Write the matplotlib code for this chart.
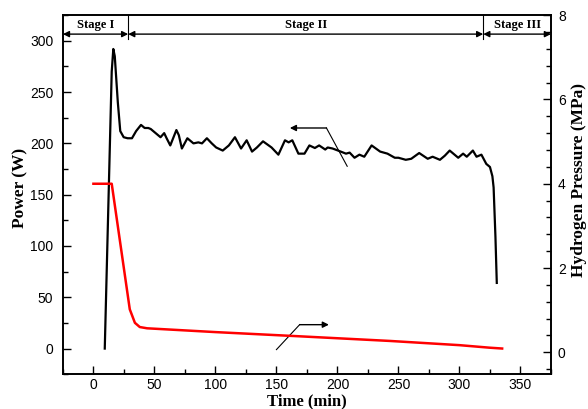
import numpy as np
import matplotlib

matplotlib.use("Agg")
import matplotlib.pyplot as plt
from matplotlib.ticker import MultipleLocator

# ---------------------------------------------------------------- data
power_time = [9.3, 15.0, 16.3, 17.5, 20, 22, 24.8, 28, 31.6, 35, 39, 42, 45,
              47, 51, 55, 58, 60, 63, 68, 70, 72.5, 77, 82, 86, 89, 93, 97,
              100.6, 106, 111, 116, 121, 125.6, 130, 134, 139, 146, 151.6,
              157, 160, 163, 168, 173, 177, 181.5, 185, 190, 192, 196, 200.5,
              207, 210, 214, 218, 222, 228, 235, 241, 247, 250, 256, 260.5,
              267, 274, 278, 284, 288, 292, 299, 303, 306, 311, 314, 318,
              322, 325, 327, 328, 329.5, 330.6]
power_w = [0, 270, 292, 285, 240, 212, 206, 205, 205, 212, 218, 215, 215,
           214, 210, 206, 210, 205, 198, 213, 208, 195, 205, 200, 201, 200,
           205, 200, 196, 193, 198, 206, 195, 203, 192, 196, 202, 196, 189,
           203, 201, 203, 190, 190, 198, 195.5, 198, 194, 196, 195, 193,
           190, 191, 186, 189, 187, 198, 192, 190, 186, 186, 184, 185,
           190.6, 185, 187, 184, 188, 193, 186, 190, 187, 193, 187, 189,
           180, 177, 168, 157, 109, 64]

pressure_time = [0, 15, 29.8, 34, 38, 44, 100, 169, 243, 300, 324.6, 335]
pressure_mpa = [4.0, 4.0, 1.02, 0.70, 0.60, 0.57, 0.48, 0.38, 0.27, 0.17,
                0.11, 0.09]

stage_edges = [-25, 28.5, 319.5, 375]
stage_labels = ["Stage I", "Stage II", "Stage III"]

# ---------------------------------------------------------------- figure
serif = "Liberation Serif"
plt.rcParams["font.family"] = "Liberation Sans"

fig = plt.figure(figsize=(5.88, 4.09), dpi=100)
ax = fig.add_axes([0.107, 0.085, 0.830, 0.878])
ax2 = ax.twinx()

ax.plot(power_time, power_w, color="black", lw=1.6)
ax2.plot(pressure_time, pressure_mpa, color="red", lw=1.8)

ax.set_xlim(-25, 375)
ax.set_ylim(-25, 325)
ax2.set_ylim(-0.52, 8.001)

ax.xaxis.set_minor_locator(MultipleLocator(25))
ax.yaxis.set_minor_locator(MultipleLocator(25))
ax2.yaxis.set_minor_locator(MultipleLocator(0.4))

ax.set_xticks([0, 50, 100, 150, 200, 250, 300, 350])
ax.set_yticks([0, 50, 100, 150, 200, 250, 300])
ax2.set_yticks([0, 2, 4, 6, 8])

for a in (ax, ax2):
    a.tick_params(which="major", direction="in", length=6, width=1,
                  labelsize=10)
    a.tick_params(which="minor", direction="in", length=3.5, width=1)
    for s in a.spines.values():
        s.set_linewidth(1.2)
ax.tick_params(axis="y", pad=7)
ax.tick_params(axis="x", pad=3)
ax2.tick_params(axis="y", pad=5)

ax.set_xlabel("Time (min)", fontfamily=serif, fontweight="bold",
              fontsize=12)
ax.set_ylabel("Power (W)", fontfamily=serif, fontweight="bold",
              fontsize=12.5)
ax2.set_ylabel("Hydrogen Pressure (MPa)", fontfamily=serif,
               fontweight="bold", fontsize=12.5)
ax.xaxis.set_label_coords(0.5, -0.054)
ax.yaxis.set_label_coords(-0.07, 0.52)
ax2.yaxis.set_label_coords(1.041, 0.54)

# ---------------------------------------------------------------- stages
header_y = 306.5
for x in stage_edges[1:-1]:
    ax.plot([x, x], [302, 325], color="black", lw=0.8, clip_on=False)
for (x0, x1), label in zip(zip(stage_edges[:-1], stage_edges[1:]),
                           stage_labels):
    ax.annotate("", xy=(x0, header_y), xytext=(x1, header_y),
                arrowprops=dict(arrowstyle="<|-|>", color="black", lw=1,
                                mutation_scale=9, shrinkA=0, shrinkB=0))
    ax.text((x0 + x1) / 2, 315.5, label, ha="center", va="center",
            fontfamily=serif, fontweight="bold", fontsize=9)

# ---------------------------------------------------------------- pointers
ax.annotate("", xy=(161, 215), xytext=(191, 215),
            arrowprops=dict(arrowstyle="-|>", color="black", lw=1,
                            mutation_scale=9, shrinkA=0, shrinkB=0))
ax.plot([191, 208], [215, 177.7], color="black", lw=0.8)
ax.annotate("", xy=(193, 23.3), xytext=(169, 23.3),
            arrowprops=dict(arrowstyle="-|>", color="black", lw=1,
                            mutation_scale=9, shrinkA=0, shrinkB=0))
ax.plot([150, 169], [-1, 23.3], color="black", lw=0.8)

fig.savefig("out.png", dpi=100)
